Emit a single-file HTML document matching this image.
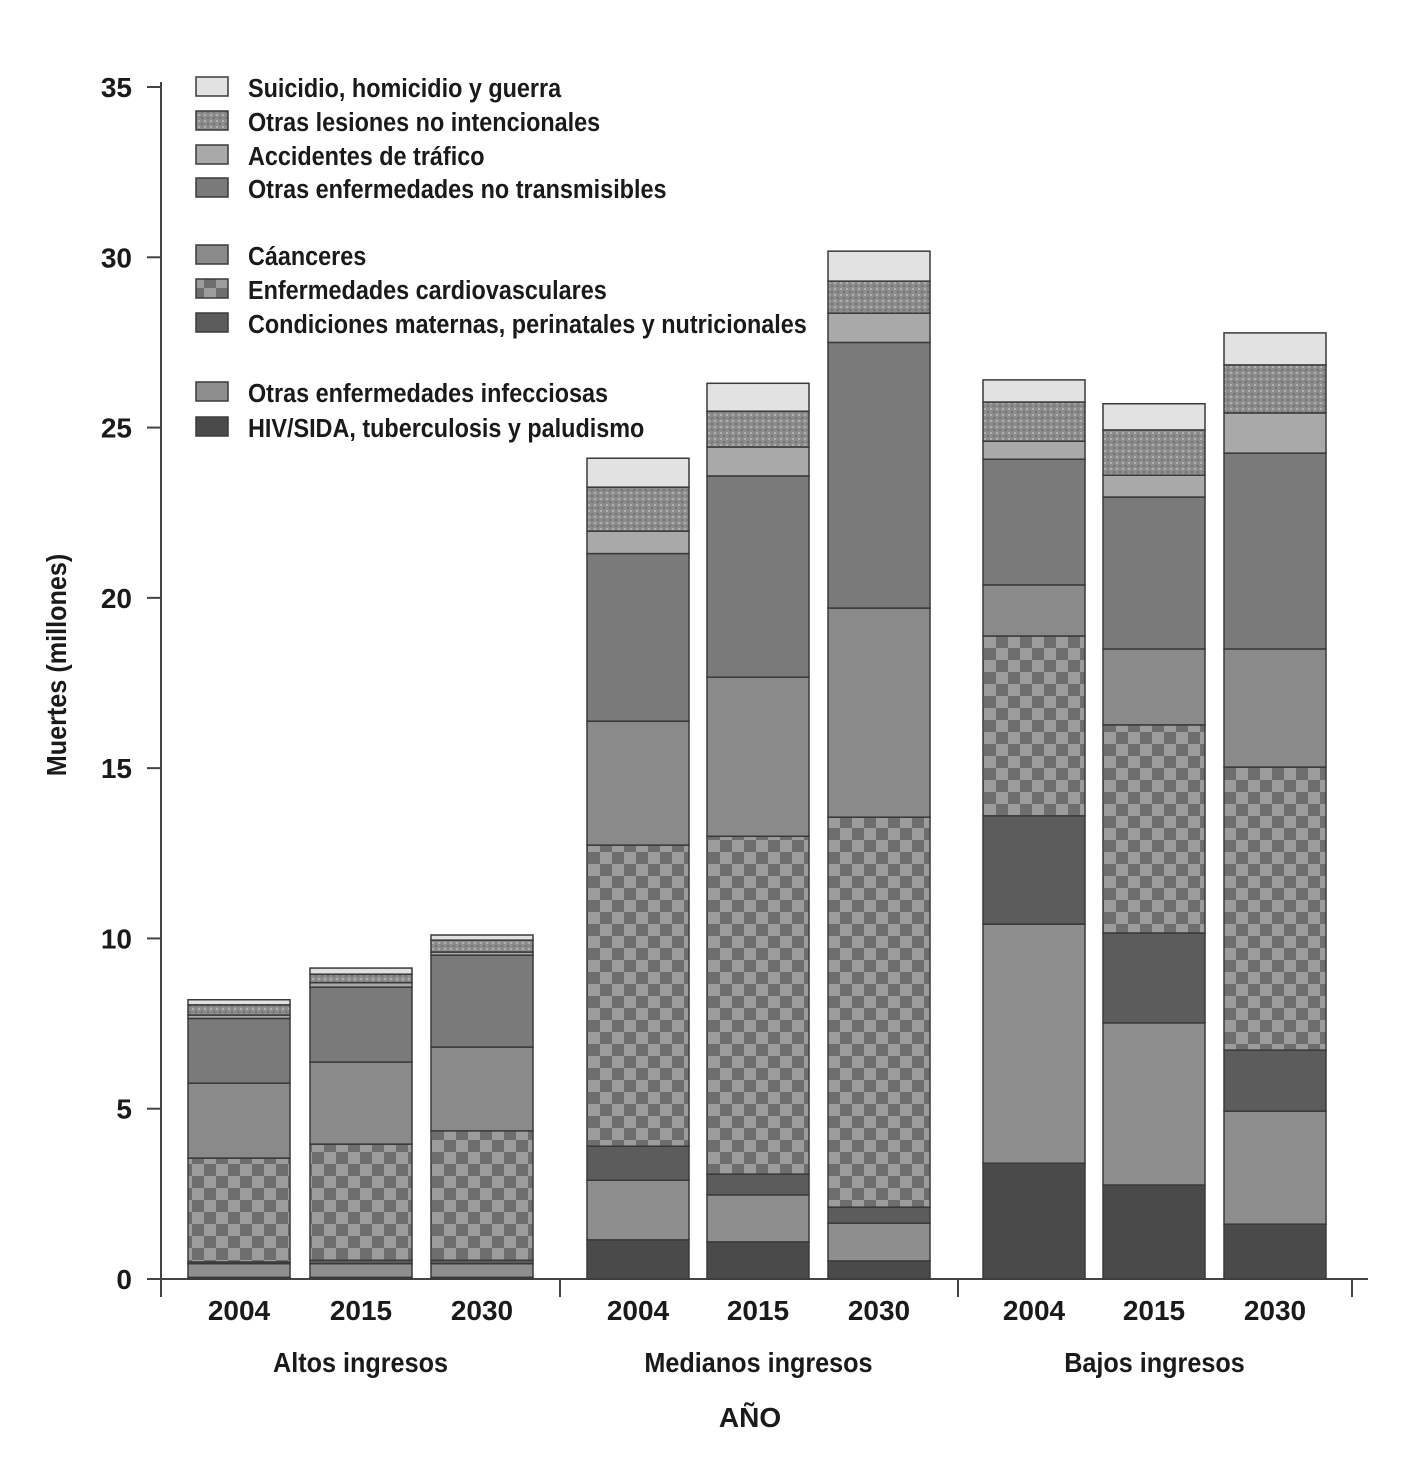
<!DOCTYPE html>
<html><head><meta charset="utf-8"><style>
html,body{margin:0;padding:0;background:#fff;}
svg text{font-family:"Liberation Sans Narrow","Liberation Sans",sans-serif;fill:#1a1a1a;font-weight:600;}
</style></head><body>
<svg id="chart" width="1402" height="1468" xmlns="http://www.w3.org/2000/svg">
<defs>
<pattern id="checker" width="24" height="24" patternUnits="userSpaceOnUse">
<rect width="24" height="24" fill="#9c9c9c"/><rect width="12" height="12" fill="#6e6e6e"/><rect x="12" y="12" width="12" height="12" fill="#6e6e6e"/>
</pattern>
<pattern id="dots" width="6" height="6" patternUnits="userSpaceOnUse">
<rect width="6" height="6" fill="#8c8c8c"/><rect width="2" height="2" fill="#b0b0b0"/><rect x="3" y="3" width="2" height="2" fill="#727272"/>
</pattern>
</defs>
<g id="axes"></g><g id="bars"></g><g id="legend"></g>
</svg>
<script>
const groups = ["Altos ingresos","Medianos ingresos","Bajos ingresos"];
const years = ["2004","2015","2030"];
const seriesNames = ["HIV/SIDA, tuberculosis y paludismo","Otras enfermedades infecciosas","Condiciones maternas, perinatales y nutricionales","Enfermedades cardiovasculares","Cáanceres","Otras enfermedades no transmisibles","Accidentes de tráfico","Otras lesiones no intencionales","Suicidio, homicidio y guerra"];
const hiv      = [0.05,0.05,0.05, 1.15,1.09,0.53, 3.40,2.76,1.61];
const otherInf = [0.40,0.40,0.40, 1.75,1.38,1.11, 7.02,4.76,3.32];
const maternal = [0.05,0.10,0.10, 1.00,0.61,0.47, 3.18,2.64,1.79];
const cardio   = [3.05,3.41,3.80, 8.84,9.92,11.45, 5.28,6.11,8.31];
const cancers  = [2.20,2.41,2.46, 3.64,4.67,6.14, 1.50,2.23,3.47];
const otherNcd = [1.90,2.20,2.70, 4.92,5.91,7.80, 3.69,4.46,5.75];
const traffic  = [0.10,0.13,0.09, 0.66,0.85,0.86, 0.53,0.64,1.18];
const otherInj = [0.30,0.25,0.35, 1.29,1.05,0.94, 1.15,1.33,1.41];
const violence = [0.15,0.18,0.15, 0.85,0.82,0.88, 0.65,0.77,0.94];
const yTicks = [0,5,10,15,20,25,30,35];

const series = [hiv,otherInf,maternal,cardio,cancers,otherNcd,traffic,otherInj,violence];
const fills = ["#4a4a4a","#8e8e8e","#5c5c5c","url(#checker)","#8a8a8a","#7a7a7a","#a9a9a9","url(#dots)","#e2e2e2"];
const seriesKeys = ["hiv","other-infectious","maternal","cardiovascular","cancers","other-ncd","traffic","other-injuries","violence"];
const NS="http://www.w3.org/2000/svg";
const y0=1279, yTop=87, vMax=35;
const yScale=v=>y0-(y0-yTop)*v/vMax;
const barX=[188,310,431,587,707,828,983,1103,1224], barW=102;
function mk(tag,attrs,parent,text){const e=document.createElementNS(NS,tag);for(const k in attrs)e.setAttribute(k,attrs[k]);if(text!==undefined)e.textContent=text;parent.appendChild(e);return e;}
const axes=document.getElementById('axes');
let yl=mk('line',{x1:161,y1:yTop-5,x2:161,y2:y0,stroke:'#444','stroke-width':2},axes);


let xl=mk('line',{x1:161,y1:y0,x2:1368,y2:y0,stroke:'#444','stroke-width':2},axes);


yTicks.forEach(t=>{const y=yScale(t);
mk('line',{x1:147,y1:y,x2:161,y2:y,stroke:'#444','stroke-width':2},axes);
const tx=mk('text',{x:132,y:y+10,'text-anchor':'end','font-size':28},axes,String(t));

});
[161,560,958,1352].forEach(x=>mk('line',{x1:x,y1:y0,x2:x,y2:1297,stroke:'#444','stroke-width':2},axes));
barX.forEach((x,i)=>{const t=mk('text',{x:x+barW/2,y:1320,'text-anchor':'middle','font-size':28},axes,years[i%3]);

});
groups.forEach((g,gi)=>{const cx=(barX[gi*3]+barX[gi*3+2]+barW)/2;const t=mk('text',{x:cx/0.9,y:1372,'text-anchor':'middle','font-size':28,transform:'scale(0.9,1)'},axes,g);

});
const xt=mk('text',{x:750,y:1427,'text-anchor':'middle','font-size':28},axes,'AÑO');


const yt=mk('text',{x:0,y:0,'text-anchor':'middle','font-size':28,transform:'translate(66,665) rotate(-90) scale(0.9,1)'},axes,'Muertes (millones)');


const bars=document.getElementById('bars');
barX.forEach((x,i)=>{let cum=0;series.forEach((s,si)=>{const v=s[i];const yA=yScale(cum+v),yB=yScale(cum);cum+=v;
const r=mk('rect',{x:x,y:yA,width:barW,height:Math.max(0,yB-yA),fill:fills[si],stroke:'#3a3a3a','stroke-width':1.5},bars);

});});
const legend=document.getElementById('legend');
const legRows=[[8,87],[7,121],[6,155],[5,188],[4,255],[3,289],[2,323],[1,392],[0,427]];
legRows.forEach(([si,y])=>{mk('rect',{x:196,y:y-10,width:32,height:19,fill:fills[si],stroke:'#3a3a3a','stroke-width':1.5},legend);
const t=mk('text',{x:248/0.9,y:y+10,'font-size':26,transform:'scale(0.9,1)'},legend,seriesNames[si]);

});
</script>
</body></html>
